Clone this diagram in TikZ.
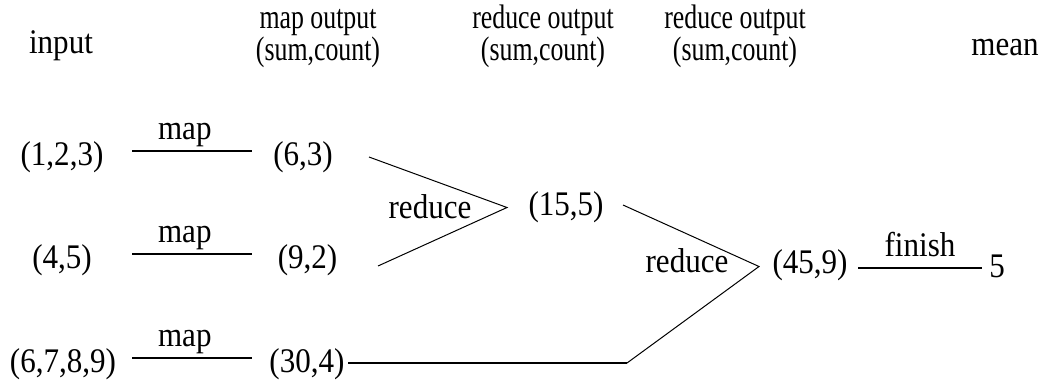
\documentclass[tikz,border=0pt]{standalone}
\usepackage{fontspec}
\setmainfont{Liberation Serif}[FakeStretch=0.9]
\newfontfamily\hdfont{Liberation Serif}[FakeStretch=0.76]

\begin{document}
\begin{tikzpicture}[x=1pt,y=-1pt,
	every node/.style={font=\fontsize{34.5}{31}\selectfont},
	val/.style={anchor=base},
	head/.style={anchor=base,align=center,font=\hdfont\fontsize{34}{29}\selectfont},
	lbl/.style={above,text depth=7.5pt},
	fat/.style={line width=2pt},
	slim/.style={line width=1pt}]

	\useasboundingbox (0,0) rectangle (1043,381);

	\node (H1)[val] at (61,53){input};
	\node (H2)[head] at (318,60){map output\\(sum,count)};
	\node (H3)[head] at (543,60){reduce output\\(sum,count)};
	\node (H4)[head] at (735,60){reduce output\\(sum,count)};
	\node (H5)[val] at (1005,55){mean};

	\node (I1)[val] at (62,165){(1,2,3)};
	\node (I2)[val] at (62,268){(4,5)};
	\node (I3)[val] at (63,372){(6,7,8,9)};

	\node (M1)[val] at (303,165){(6,3)};
	\node (M2)[val] at (307.5,268){(9,2)};
	\node (M3)[val] at (307,372){(30,4)};

	\node (R1)[val] at (566,215){(15,5)};
	\node (R2)[val] at (810,273){(45,9)};
	\node (F)[val] at (997,277){5};

	\node (A1)[val] at (430,218){reduce};
	\node (A2)[val] at (687,272){reduce};

	% map lines
	\coordinate (m1a) at (132,151);
	\coordinate (m1b) at (252,151);
	\coordinate (m2a) at (132,254);
	\coordinate (m2b) at (252,254);
	\coordinate (m3a) at (132,358);
	\coordinate (m3b) at (252,358);
	\draw [fat] (m1a) -- node[lbl,pos=.44]{map} (m1b);
	\draw [fat] (m2a) -- node[lbl,pos=.44]{map} (m2b);
	\draw [fat] (m3a) -- node[lbl,pos=.44]{map} (m3b);

	% first reduce
	\coordinate (c1a) at (369,157);
	\coordinate (c1tip) at (507,207.5);
	\coordinate (c1b) at (378,266);
	\draw [slim] (c1a) -- (c1tip) -- (c1b);

	% second reduce
	\coordinate (c2a) at (623,205);
	\coordinate (c2tip) at (759,266.5);
	\coordinate (c2bend) at (627,363);
	\draw [slim] (c2a) -- (c2tip) -- (c2bend);
	\draw [fat] (M3.east |- c2bend) -- (c2bend);

	% finish
	\coordinate (fa) at (858,268);
	\coordinate (fb) at (982,268);
	\draw [fat] (fa) -- node[lbl]{finish} (fb);

\end{tikzpicture}
\end{document}
